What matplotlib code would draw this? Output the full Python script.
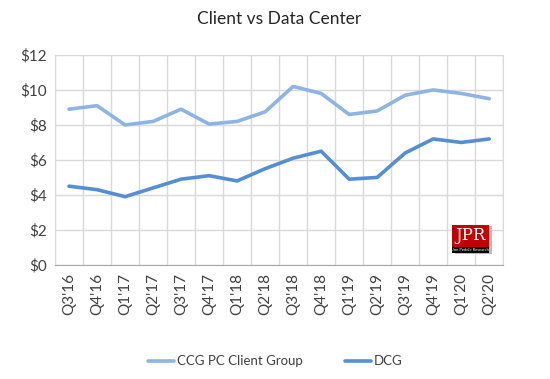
import matplotlib.pyplot as plt
from matplotlib.patches import Rectangle
import numpy as np

quarters = ["Q3'16", "Q4'16", "Q1'17", "Q2'17", "Q3'17", "Q4'17", "Q1'18", "Q2'18",
            "Q3'18", "Q4'18", "Q1'19", "Q2'19", "Q3'19", "Q4'19", "Q1'20", "Q2'20"]
ccg = [8.9, 9.1, 8.0, 8.2, 8.9, 8.05, 8.2, 8.75, 10.2, 9.8, 8.6, 8.8, 9.7, 10.0, 9.8, 9.5]
dcg = [4.5, 4.3, 3.9, 4.4, 4.9, 5.1, 4.8, 5.5, 6.1, 6.5, 4.9, 5.0, 6.4, 7.2, 7.0, 7.2]
yticks = [0, 2, 4, 6, 8, 10, 12]

plt.rcParams['font.family'] = ['Lato', 'DejaVu Sans']

fig = plt.figure(figsize=(5.5, 3.79), dpi=100)
ax = fig.add_axes([0.1, 0.301, 0.815, 0.554])

x = np.arange(len(quarters))
ax.plot(x, ccg, color='#8EB4E3', lw=2.6, label='CCG PC Client Group', solid_capstyle='round')
ax.plot(x, dcg, color='#558ED5', lw=2.6, label='DCG', solid_capstyle='round')

ax.set_xlim(-0.5, len(quarters) - 0.5)
ax.set_ylim(0, 12)
ax.set_xticks(x)
ax.set_xticklabels(quarters, rotation=90, fontsize=11, color='#404040')
ax.set_xticks(np.arange(-0.5, len(quarters), 1), minor=True)
ax.set_yticks(yticks)
ax.set_yticklabels(['$%d' % v for v in yticks], fontsize=11, color='#404040')
ax.tick_params(axis='both', which='both', length=0, pad=6)
ax.grid(True, which='minor', axis='x', color='#D9D9D9', lw=1)
ax.grid(True, which='major', axis='y', color='#D9D9D9', lw=1)
for s in ax.spines.values():
    s.set_color('#D9D9D9')
ax.spines['bottom'].set_color('#A6A6A6')

ax.set_title('Client vs Data Center', fontsize=12.5, color='#262626', pad=22)

# JPR logo
ax.add_patch(Rectangle((0.892, 0.052), 0.083, 0.135, transform=ax.transAxes,
                       facecolor='#BBBBBB', edgecolor='none', zorder=4))
ax.add_patch(Rectangle((0.886, 0.086), 0.083, 0.104, transform=ax.transAxes,
                       facecolor='#C00000', edgecolor='none', zorder=5))
ax.add_patch(Rectangle((0.886, 0.057), 0.083, 0.03, transform=ax.transAxes,
                       facecolor='black', edgecolor='none', zorder=5))
ax.text(0.9275, 0.138, 'JPR', transform=ax.transAxes, ha='center', va='center',
        color='white', fontsize=12, family='DejaVu Serif', zorder=6)
ax.text(0.9275, 0.072, 'Jon Peddie Research', transform=ax.transAxes, ha='center',
        va='center', color='white', fontsize=3, zorder=6)

fig.legend(loc='lower center', bbox_to_anchor=(0.5, 0.0), ncol=2, frameon=False,
           fontsize=9.5, handlelength=2.0, handletextpad=0.2, columnspacing=3.2,
           labelcolor='#404040')

fig.savefig('out.png', dpi=100)
